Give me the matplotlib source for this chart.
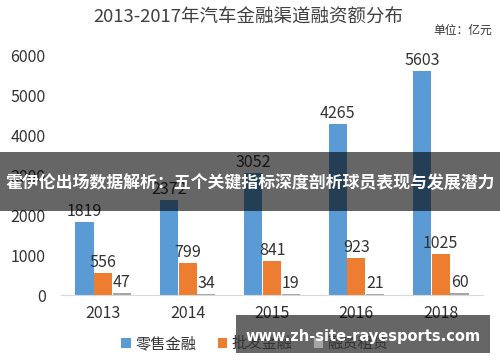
import matplotlib
matplotlib.use('Agg')
from matplotlib import pyplot as plt
from matplotlib.patches import Rectangle
import numpy as np

plt.rcParams['font.family'] = ['Noto Sans CJK SC', 'DejaVu Sans']

# data (units = 亿元)
years = ['2013', '2014', '2015', '2016', '2018']
retail = [1819, 2372, 3052, 4265, 5603]
wholesale = [556, 799, 841, 923, 1025]
leasing = [47, 34, 19, 21, 60]
series_names = ['零售金融', '批发金融', '融资租赁']
colors = ['#5B9BD5', '#ED7D31', '#A5A5A5']
yticks = [0, 1000, 2000, 3000, 4000, 5000, 6000]

fig = plt.figure(figsize=(5.0, 3.62), dpi=100)
ax = fig.add_axes([0.122, 0.185, 0.844, 0.663])

x = np.arange(len(years))
w = 0.215
off = 0.222
txt = '#333333'
for vals, dx, c, name in zip([retail, wholesale, leasing], [-off, 0, off], colors, series_names):
	bars = ax.bar(x + dx, vals, w, color=c, label=name, zorder=2)
	for b, v in zip(bars, vals):
		ax.annotate(str(v), (b.get_x() + b.get_width()/2, v), xytext=(0, 1.5),
			textcoords='offset points', ha='center', va='bottom',
			fontsize=11.5, color=txt, clip_on=False)

ax.set_xlim(-0.5, len(years) - 0.5)
ax.set_ylim(0, 6000)
ax.set_xticks(x)
ax.set_xticklabels(years)
ax.set_yticks(yticks)
ax.tick_params(axis='both', length=0, labelsize=11.5, labelcolor=txt)
ax.tick_params(axis='y', pad=11)
ax.tick_params(axis='x', pad=7)
for s in ['top', 'right', 'left']:
	ax.spines[s].set_visible(False)
ax.spines['bottom'].set_color('#d9d9d9')

# titles
fig.text(0.496, 0.95, '2013-2017年汽车金融渠道融资额分布', ha='center', va='center',
	fontsize=13.3, color='#404040')
fig.text(0.926, 0.915, '单位：亿元', ha='center', va='center', fontsize=8.5, color=txt)

# legend
fig.legend(loc='center', bbox_to_anchor=(0.51, 0.05), ncol=3, frameon=False,
	fontsize=11, handlelength=0.6, handleheight=0.6, handletextpad=0.3,
	columnspacing=1.4, labelcolor=txt)

# overlay banner
fig.patches.append(Rectangle((0, 1 - 211/362), 1, 59/362, transform=fig.transFigure,
	facecolor='black', alpha=0.6, zorder=5))
fig.text(0.5, 1 - 183/362, '霍伊伦出场数据解析：五个关键指标深度剖析球员表现与发展潜力',
	ha='center', va='center', fontsize=12.2, fontweight='bold', color='white', zorder=6)

# watermark
fig.patches.append(Rectangle((236/500, 1 - 353/362), 254/500, 38/362, transform=fig.transFigure,
	facecolor='black', alpha=0.6, zorder=5))
fig.text(363/500, 1 - 336/362, 'www.zh-site-rayesports.com', ha='center', va='center',
	fontsize=10.5, fontweight='bold', color='white', family='DejaVu Sans', zorder=6)

fig.savefig('out.png', dpi=100)
